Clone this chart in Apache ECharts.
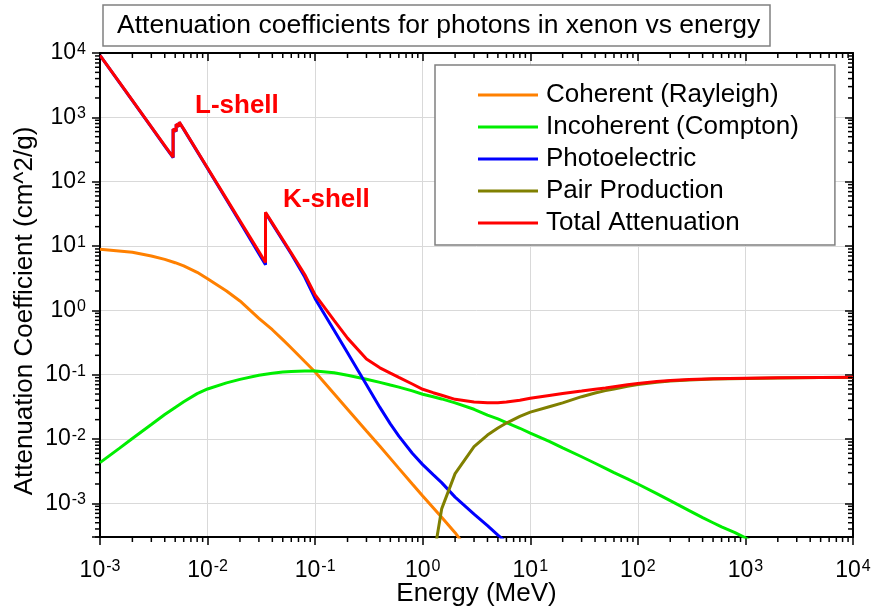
<!DOCTYPE html>
<html>
<head>
<meta charset="utf-8">
<script src="https://cdn.jsdelivr.net/npm/echarts@6/dist/echarts.min.js"></script>
<style>
  html, body { margin: 0; padding: 0; background: #ffffff; }
  #chart { width: 875px; height: 612px; }
</style>
</head>
<body>
<div id="chart"></div>
<script>
// Mass attenuation coefficients of xenon (cm^2/g) versus photon energy (MeV)

// Coherent (Rayleigh) scattering
const cohEnergy = [0.001, 0.002, 0.003, 0.004, 0.005, 0.006, 0.008, 0.01, 0.015, 0.02, 0.03, 0.04, 0.05, 0.06, 0.08, 0.1, 0.15, 0.2, 0.3, 0.4, 0.5, 0.6, 0.8, 1, 1.5, 2, 3];
const cohValue = [8.9, 8.0, 7.0, 6.2, 5.5, 4.9, 3.9, 3.1, 2.0, 1.4, 0.75, 0.50, 0.35, 0.26, 0.16, 0.11, 0.0505, 0.029, 0.0133, 0.0077, 0.0050, 0.0035, 0.0020, 0.0013, 0.00061, 0.00035, 0.00014];

// Incoherent (Compton) scattering
const incEnergy = [0.001, 0.0015, 0.002, 0.003, 0.004, 0.005, 0.006, 0.008, 0.01, 0.015, 0.02, 0.03, 0.04, 0.05, 0.06, 0.08, 0.1, 0.15, 0.2, 0.3, 0.4, 0.5, 0.6, 0.8, 1, 1.25, 1.5, 2, 3, 4, 5, 6, 8, 10, 15, 20, 30, 40, 50, 60, 80, 100, 150, 200, 300, 400, 500, 600, 800, 1000, 1500];
const incValue = [0.0043, 0.0071, 0.0102, 0.0168, 0.0240, 0.0310, 0.0379, 0.0508, 0.060, 0.0745, 0.0845, 0.098, 0.1055, 0.110, 0.1125, 0.1145, 0.1145, 0.107, 0.098, 0.085, 0.076, 0.069, 0.064, 0.056, 0.0496, 0.0455, 0.042, 0.0365, 0.029, 0.0235, 0.0205, 0.018, 0.0147, 0.0124, 0.0092, 0.0073, 0.0053, 0.0042, 0.0035, 0.0030, 0.0024, 0.0020, 0.00142, 0.00110, 0.00077, 0.00060, 0.00050, 0.00043, 0.00035, 0.00029, 0.00020];

// Photoelectric absorption (L and K edges listed twice: below / above)
const peEnergy = [0.001, 0.0015, 0.002, 0.003, 0.004, 0.004782, 0.004782, 0.005104, 0.005104, 0.005453, 0.005453, 0.006, 0.008, 0.01, 0.015, 0.02, 0.03, 0.03456, 0.03456, 0.04, 0.05, 0.06, 0.08, 0.1, 0.15, 0.2, 0.3, 0.4, 0.5, 0.6, 0.8, 1, 1.25, 1.5, 2, 3, 4, 5, 6, 8];
const peValue = [9190, 3570, 1822, 705, 358, 236, 655, 605, 775, 725, 840, 650, 296, 160, 52.5, 23.6, 7.6, 5.1, 32.6, 22.1, 12.2, 7.5, 3.3, 1.52, 0.49, 0.22, 0.070, 0.031, 0.0172, 0.0111, 0.0060, 0.0040, 0.0028, 0.0021, 0.00125, 0.00068, 0.00045, 0.00032, 0.00025, 0.00017];

// Pair production (nuclear + electron field)
const pairEnergy = [1.25, 1.5, 2, 3, 4, 5, 6, 8, 10, 15, 20, 30, 40, 50, 60, 80, 100, 150, 200, 300, 500, 1000, 2000, 5000, 10000];
const pairValue = [0.00013, 0.00082, 0.0029, 0.0076, 0.0115, 0.0148, 0.0177, 0.0225, 0.0262, 0.0318, 0.0365, 0.0455, 0.052, 0.0565, 0.060, 0.066, 0.0705, 0.0765, 0.0795, 0.0825, 0.0855, 0.0875, 0.089, 0.0902, 0.0908];

// Total attenuation
const totEnergy = [0.001, 0.0015, 0.002, 0.003, 0.004, 0.004782, 0.004782, 0.005104, 0.005104, 0.005453, 0.005453, 0.006, 0.008, 0.01, 0.015, 0.02, 0.03, 0.03456, 0.03456, 0.04, 0.05, 0.06, 0.08, 0.1, 0.15, 0.2, 0.3, 0.4, 0.5, 0.6, 0.8, 1, 1.25, 1.5, 2, 3, 4, 5, 6, 8, 10, 15, 20, 30, 40, 50, 60, 80, 100, 150, 200, 300, 500, 1000, 2000, 5000, 10000];
const totValue = [9200, 3580, 1830, 711, 364, 240, 660, 610, 780, 730, 845, 655, 300, 163, 54, 24.7, 8.2, 5.55, 33.4, 22.7, 12.6, 7.8, 3.6, 1.74, 0.70, 0.37, 0.175, 0.128, 0.106, 0.091, 0.0716, 0.0593, 0.0525, 0.048, 0.0414, 0.0375, 0.0365, 0.0367, 0.0375, 0.040, 0.043, 0.0475, 0.051, 0.0557, 0.0595, 0.062, 0.065, 0.0695, 0.073, 0.0785, 0.081, 0.084, 0.0865, 0.088, 0.0895, 0.0905, 0.091];

const seriesNames = ['Coherent (Rayleigh)', 'Incoherent (Compton)', 'Photoelectric', 'Pair Production', 'Total Attenuation'];
const seriesColors = ['#ff8000', '#00ee00', '#0000ff', '#808000', '#ff0000'];

// Axis ranges
const xMin = 1e-3, xMax = 1e4;
const yMin = 3e-4, yMax = 1e4;

const FONT = '"Liberation Sans", Arial, Helvetica, sans-serif';

const zip = (xs, ys) => xs.map((x, i) => [x, ys[i]]);
const seriesData = [
  zip(cohEnergy, cohValue),
  zip(incEnergy, incValue),
  zip(peEnergy, peValue),
  zip(pairEnergy, pairValue),
  zip(totEnergy, totValue)
];

// Minor tick values at 2..9 within each decade
const minorX = [];
for (let d = -3; d < 4; d++) for (let m = 2; m <= 9; m++) minorX.push(m * Math.pow(10, d));
const minorY = [];
for (let d = -4; d < 4; d++) for (let m = 2; m <= 9; m++) {
  const v = m * Math.pow(10, d);
  if (v > yMin && v < yMax) minorY.push(v);
}

function powLabel(v) {
  const l = Math.log10(v);
  const e = Math.round(l);
  if (Math.abs(l - e) > 1e-6) return '';
  return '{b|10}{s|' + e + '}';
}
const labelRich = {
  b: { fontSize: 23, fontFamily: FONT, color: '#000' },
  s: { fontSize: 16, fontFamily: FONT, color: '#000', verticalAlign: 'top', padding: [0, 0, 0, 1] }
};

const axisLineStyle = { color: '#000', width: 2 };
const tickStyle = { color: '#000', width: 1.5 };
const gridLine = { show: true, lineStyle: { color: '#d9d9d9', width: 1 } };

const shellLabels = [
  { type: 'text', left: 195, top: 93, z: 20, style: { text: 'L-shell', fill: '#ff0000', font: 'bold 26px ' + FONT } },
  { type: 'text', left: 283, top: 187, z: 20, style: { text: 'K-shell', fill: '#ff0000', font: 'bold 26px ' + FONT } }
];

const chart = echarts.init(document.getElementById('chart'), null, { renderer: 'canvas' });

const option = {
  backgroundColor: '#ffffff',
  animation: false,
  textStyle: { fontFamily: FONT },
  title: {
    text: 'Attenuation coefficients for photons in xenon vs energy',
    left: 103, top: 5,
    padding: [7, 10, 7, 14],
    borderColor: '#808080', borderWidth: 1.5,
    backgroundColor: '#fff',
    textStyle: { fontSize: 26.5, fontWeight: 'normal', color: '#000', fontFamily: FONT }
  },
  legend: {
    data: seriesNames,
    orient: 'vertical',
    left: 435, top: 65,
    padding: [17, 36, 9, 43],
    itemGap: 6,
    itemWidth: 60, itemHeight: 3,
    icon: 'rect',
    borderColor: '#808080', borderWidth: 1.5,
    backgroundColor: '#fff',
    textStyle: { fontSize: 26, color: '#000', fontFamily: FONT, padding: [0, 0, 0, 3] },
    z: 10
  },
  grid: { left: 100, right: 22, top: 53, bottom: 75, containLabel: false, outerBoundsMode: 'none' },
  xAxis: [
    {
      type: 'log', logBase: 10, min: xMin, max: xMax,
      name: 'Energy (MeV)', nameLocation: 'middle', nameGap: 44, nameMoveOverlap: false,
      nameTextStyle: { fontSize: 26, color: '#000', fontFamily: FONT },
      axisLine: { show: true, lineStyle: axisLineStyle },
      axisTick: { show: true, inside: false, length: 8, lineStyle: tickStyle },
      axisLabel: { show: true, margin: 22, formatter: powLabel, rich: labelRich },
      splitLine: gridLine
    },
    {
      type: 'log', logBase: 10, min: xMin, max: xMax, position: 'top',
      axisLine: { show: true, lineStyle: axisLineStyle },
      axisTick: { show: true, inside: true, length: 8, lineStyle: tickStyle },
      axisLabel: { show: false },
      splitLine: { show: false }
    }
  ],
  yAxis: [
    {
      type: 'log', logBase: 10, min: yMin, max: yMax, splitNumber: 8,
      name: 'Attenuation Coefficient (cm^2/g)', nameLocation: 'middle', nameGap: 62, nameMoveOverlap: false,
      nameTextStyle: { fontSize: 26, color: '#000', fontFamily: FONT, padding: [0, 32, 0, 0] },
      axisLine: { show: true, lineStyle: axisLineStyle },
      axisTick: { show: true, inside: false, length: 8, lineStyle: tickStyle },
      axisLabel: { show: true, margin: 14, formatter: powLabel, rich: labelRich },
      splitLine: gridLine
    },
    {
      type: 'log', logBase: 10, min: yMin, max: yMax, splitNumber: 8, position: 'right',
      axisLine: { show: true, lineStyle: axisLineStyle },
      axisTick: { show: true, inside: true, length: 8, lineStyle: tickStyle },
      axisLabel: { show: false },
      splitLine: { show: false }
    }
  ],
  graphic: shellLabels,
  series: seriesNames.map((name, i) => ({
    name: name,
    type: 'line',
    xAxisIndex: 0, yAxisIndex: 0,
    data: seriesData[i],
    showSymbol: false,
    symbol: 'none',
    clip: true,
    smooth: false,
    color: seriesColors[i],
    lineStyle: { color: seriesColors[i], width: 3 },
    z: 3 + i
  }))
};

chart.setOption(option);

// Minor ticks on all four sides, positioned through the axes' own scales:
// bottom/left point outward, top/right point inward.
const TICK = 5;
const tickLine = (x1, y1, x2, y2) => ({
  type: 'line', silent: true, z: 15,
  shape: { x1: x1, y1: y1, x2: x2, y2: y2 },
  style: { stroke: '#000', lineWidth: 1.5 }
});
const yBottom = chart.convertToPixel({ yAxisIndex: 0 }, yMin);
const yTop = chart.convertToPixel({ yAxisIndex: 0 }, yMax);
const xLeft = chart.convertToPixel({ xAxisIndex: 0 }, xMin);
const xRight = chart.convertToPixel({ xAxisIndex: 0 }, xMax);
const minorTicks = [];
minorX.forEach(v => {
  const px = chart.convertToPixel({ xAxisIndex: 0 }, v);
  minorTicks.push(tickLine(px, yBottom, px, yBottom + TICK));
  minorTicks.push(tickLine(px, yTop, px, yTop + TICK));
});
minorY.forEach(v => {
  const py = chart.convertToPixel({ yAxisIndex: 0 }, v);
  minorTicks.push(tickLine(xLeft - TICK, py, xLeft, py));
  minorTicks.push(tickLine(xRight - TICK, py, xRight, py));
});
chart.setOption({ graphic: shellLabels.concat(minorTicks) });
</script>
</body>
</html>
